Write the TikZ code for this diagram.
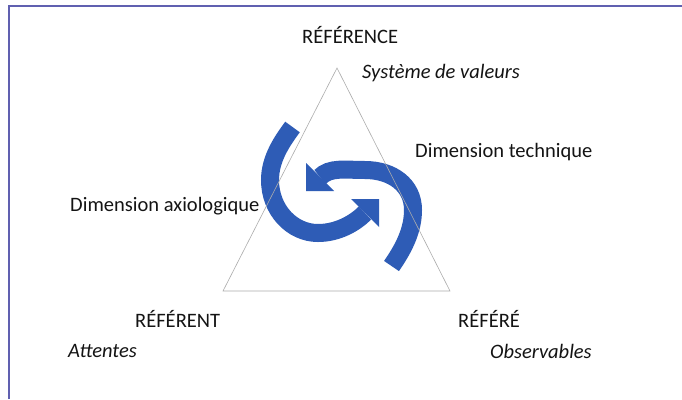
\documentclass[tikz,border=0pt]{standalone}
\usepackage{fontspec}
\setmainfont{Carlito}
\definecolor{bandblue}{RGB}{46,92,182}
\definecolor{framecol}{RGB}{96,96,176}
\definecolor{txt}{RGB}{20,20,20}
\begin{document}
\begin{tikzpicture}[x=1pt,y=-1pt,
  lbl/.style={inner sep=0pt,anchor=base west,text=txt,font=\fontsize{20.5}{24}\selectfont},
  ilbl/.style={lbl,font=\fontsize{20.5}{24}\selectfont\itshape},
  band/.style={draw=bandblue,line width=18pt,line cap=butt},
  head/.style={fill=bandblue,draw=none}]
\useasboundingbox (0,0) rectangle (682,399);
\fill[white] (0,0) rectangle (682,399);
% frame
\draw[framecol,line width=1.2pt] (9,399) -- (9,6) -- (682,6);
% arrows
\draw[band] (391.5,266) .. controls (404,248) and (413,230) .. (413,210)
  .. controls (413,185) and (392,170) .. (365,170)
  .. controls (345,170) and (330,167) .. (320,177);
\fill[head] (306,191) -- (306,163) -- (334,191) -- cycle;
\draw[band] (292.5,127) .. controls (283,140) and (270,158) .. (270,180)
  .. controls (270,210) and (292,233) .. (318,233)
  .. controls (338,233) and (355,223) .. (365,213);
\fill[head] (379,199) -- (351,199) -- (379,227) -- cycle;
% triangle
\coordinate (apex) at (337,68);
\coordinate (bl) at (223,291);
\coordinate (br) at (450,291);
\draw[gray!65,line width=0.6pt] (apex) -- (bl) -- (br) -- cycle;
% labels
\node[lbl] (ref) at (302,43) {RÉFÉRENCE};
\node[ilbl] (sys) at (362,78) {Système de valeurs};
\node[lbl] (tech) at (415,157) {Dimension technique};
\node[lbl] (axio) at (70,211) {Dimension axiologique};
\node[lbl] (rent) at (135,327) {RÉFÉRENT};
\node[ilbl] (att) at (68,357) {Attentes};
\node[lbl] (rere) at (458,327) {RÉFÉRÉ};
\node[ilbl] (obs) at (490,358) {Observables};
\end{tikzpicture}
\end{document}
